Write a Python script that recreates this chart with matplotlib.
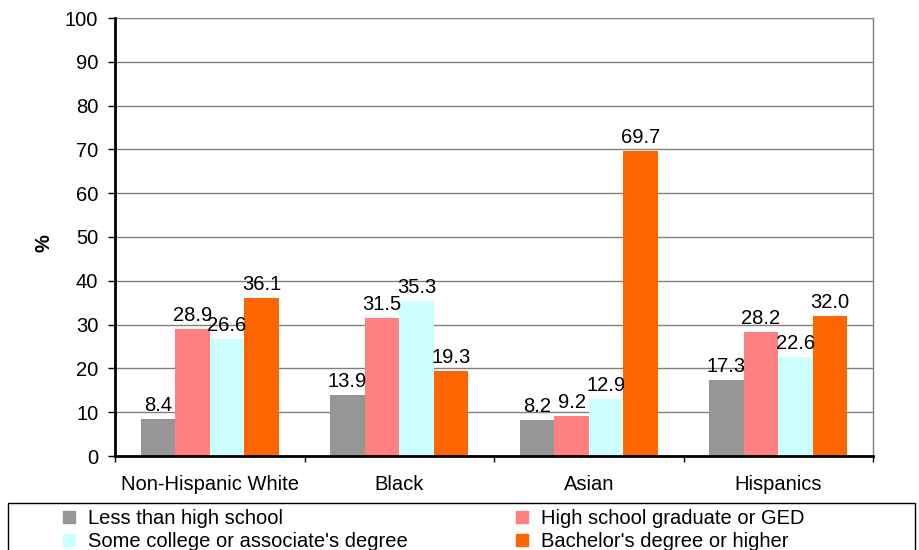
import numpy as np
import matplotlib
matplotlib.use('Agg')
import matplotlib.pyplot as plt
from matplotlib.patches import Rectangle, Patch

plt.rcParams['font.family'] = ['Liberation Sans', 'DejaVu Sans']

groups = ['Non-Hispanic White', 'Black', 'Asian', 'Hispanics']
series = ['Less than high school', 'High school graduate or GED',
          "Some college or associate's degree", "Bachelor's degree or higher"]
less_hs = [8.4, 13.9, 8.2, 17.3]
hs_grad = [28.9, 31.5, 9.2, 28.2]
some_college = [26.6, 35.3, 12.9, 22.6]
bachelor = [36.1, 19.3, 69.7, 32.0]
colors = ['#969696', '#FF8080', '#CCFFFF', '#FF6600']

fs = 14.5
fig = plt.figure(figsize=(9.19, 5.5), dpi=100)
ax = fig.add_axes([115/919, 1 - 456/550, 758/919, 438/550])

x = np.arange(len(groups))
w = 0.182
values = [less_hs, hs_grad, some_college, bachelor]
for i, (vals, c) in enumerate(zip(values, colors)):
    pos = x + (i - 1.5) * w
    bars = ax.bar(pos, vals, w, color=c, zorder=3)
    for b, v in zip(bars, vals):
        ax.annotate(f'{v:.1f}', (b.get_x() + b.get_width()/2, v),
                    xytext=(0, 3), textcoords='offset points',
                    ha='center', va='bottom', fontsize=fs, zorder=4)

ax.set_xlim(-0.5, 3.5)
ax.set_ylim(0, 100)
ax.set_yticks(range(0, 101, 10))
ax.yaxis.grid(True, color='#808080', linewidth=1, zorder=0)
ax.set_xticks(x)
ax.set_xticklabels(groups, fontsize=fs)
ax.set_xticks(np.arange(-0.5, 4, 1), minor=True)
ax.tick_params(axis='x', which='major', length=0, pad=14)
ax.tick_params(axis='x', which='minor', length=4.5, width=1, direction='out')
ax.tick_params(axis='y', length=5, width=1, direction='out', pad=7, labelsize=fs)

for s in ['left', 'bottom']:
    ax.spines[s].set_linewidth(2)
    ax.spines[s].set_zorder(5)
ax.spines['top'].set_visible(False)
ax.spines['right'].set_color('#808080')
ax.spines['right'].set_linewidth(1)

ax.set_ylabel('%', fontsize=fs, fontweight='bold')
ax.yaxis.set_label_coords(-62/758, (456 - 243)/438)

# legend box at the bottom (runs off the figure)
fig.add_artist(Rectangle((8/919, -0.1), 907/919, 0.1 + 1 - 503/550,
                         transform=fig.transFigure, fill=False,
                         edgecolor='black', linewidth=1))
handles = [Patch(color=c) for c in colors]
order = [0, 2, 1, 3]
fig.legend([handles[i] for i in order], [series[i] for i in order],
           ncol=2, loc='upper left', bbox_to_anchor=(63/919, 1 - 509/550),
           frameon=False, borderpad=0, borderaxespad=0, fontsize=fs,
           handlelength=0.6, handleheight=0.6, handletextpad=0.65,
           labelspacing=0.2, columnspacing=5.37)

fig.savefig('out.png', dpi=100)
